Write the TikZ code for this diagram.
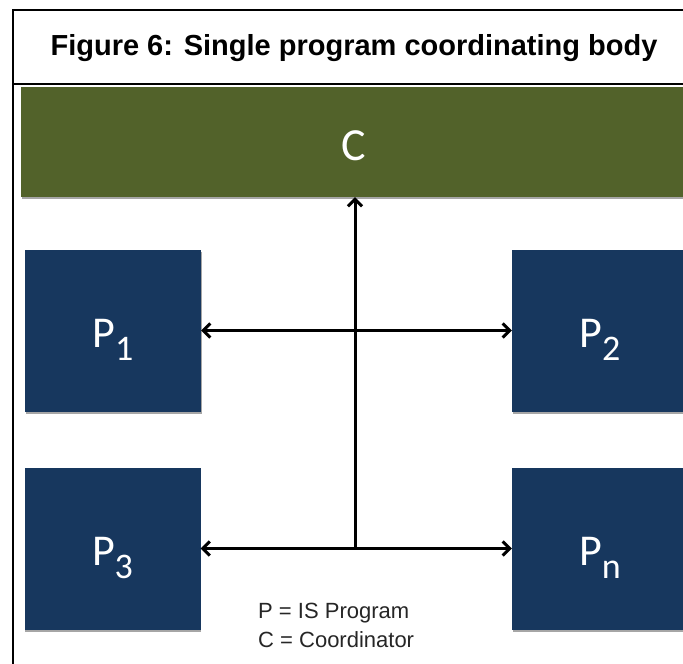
\documentclass[tikz,border=0pt]{standalone}
\usepackage{fontspec}
\setmainfont{Liberation Sans}
\newfontfamily\calib{Carlito}
\usetikzlibrary{arrows.meta,shadows}
\definecolor{cgreen}{HTML}{52622A}
\definecolor{pblue}{HTML}{17375E}
\tikzset{
  frame/.style={line width=2pt, black},
  pbox/.style={rectangle, fill=pblue, minimum width=176pt, minimum height=162pt,
    inner sep=0pt, text=white, text height=33pt, text depth=0pt,
    font=\calib\fontsize{44}{44}\selectfont,
    drop shadow={shadow xshift=0.5pt, shadow yshift=-2pt, opacity=0.35, fill=black}},
  cbox/.style={rectangle, fill=cgreen, minimum width=666pt, minimum height=110pt,
    inner sep=0pt, text=white, text height=36pt, text depth=0pt,
    font=\calib\fontsize{46}{46}\selectfont,
    drop shadow={shadow xshift=0.5pt, shadow yshift=-2pt, opacity=0.35, fill=black}},
  conn/.style={line width=3pt, black},
  tipA/.style={{Straight Barb[length=7pt,width=14pt]}-{Straight Barb[length=7pt,width=14pt]}},
  tipB/.style={-{Straight Barb[length=7pt,width=14pt]}},
  legendtext/.style={anchor=base west, inner sep=0pt, text=black!85,
    font=\fontsize{22}{22}\selectfont},
}
\newcommand{\subP}[1]{P\raisebox{-13pt}{\fontsize{36}{36}\selectfont #1}}
\begin{document}
\begin{tikzpicture}[x=1pt,y=-1pt]
\useasboundingbox (0,0) rectangle (683,664);
\clip (0,0) rectangle (683,664);
\fill[white] (0,0) rectangle (683,664);
% frame
\draw[frame] (13,700) -- (13,10) -- (700,10);
\draw[frame] (13,84) -- (700,84);
\node[anchor=base, inner sep=0pt, font=\bfseries\fontsize{29}{29}\selectfont] (title) at (354,55) {Figure 6: Single program coordinating body};
% boxes
\node[cbox] (C) at (354,142) {C};
\node[pbox] (P1) at (113,330.5) {\subP{1}};
\node[pbox] (P2) at (600,330.5) {\subP{2}};
\node[pbox] (P3) at (112.5,548.5) {\subP{3}};
\node[pbox] (Pn) at (600,549) {\subP{n}};
% connectors
\coordinate (J) at (355,548);
\draw[conn,tipA] (P1.east) -- (P2.west);
\draw[conn,tipA] (P3.east) -- (P3.east -| Pn.west);
\draw[conn,tipB] (J) -- (J |- C.south);
% legend
\node[legendtext] (legP) at (258,618) {P = IS Program};
\node[legendtext] (legC) at (258,647) {C = Coordinator};
\end{tikzpicture}
\end{document}
